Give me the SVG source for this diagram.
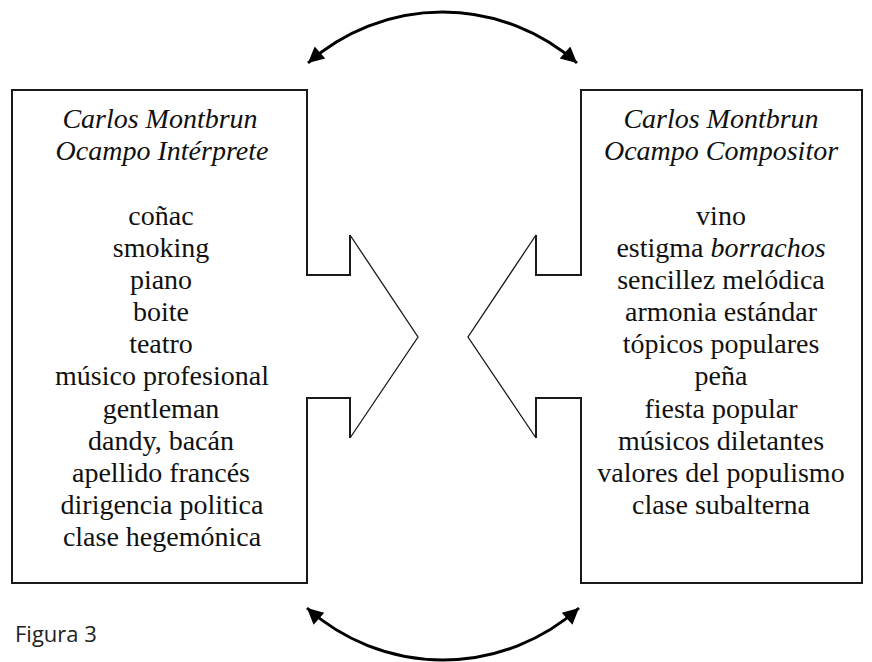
<svg xmlns="http://www.w3.org/2000/svg" width="872" height="662" viewBox="0 0 872 662">
<style>
.box{fill:none;stroke:#1a1a1a;stroke-width:2;stroke-linejoin:miter}
.diag{fill:none;stroke:#1a1a1a;stroke-width:1.3}
.t{font-family:"Liberation Serif","Times New Roman",serif;font-size:28px;fill:#111;text-anchor:middle}
.ti{font-style:italic}
.arc{fill:none;stroke:#000;stroke-width:3}
.fig{font-family:"Open Sans","Noto Sans",sans-serif;font-size:22px;fill:#222}
</style>
<defs>
<marker id="ah" viewBox="0 0 10 10" refX="10" refY="5" markerUnits="userSpaceOnUse" markerWidth="18" markerHeight="16" orient="auto-start-reverse">
<path d="M0,0 L10,5 L0,10 z" fill="#000"/>
</marker>
</defs>
<g id="left-box">
<path class="box" d="M350,235 L350,275 L307,275 L307,90 L12,90 L12,583 L307,583 L307,398 L350,398 L350,438"/>
<path class="diag" d="M350,235 L418,337 L350,438"/>
<text class="t ti" x="160" y="128">Carlos Montbrun</text>
<text class="t ti" x="162" y="160">Ocampo Intérprete</text>
<text class="t" x="161" y="225">coñac</text>
<text class="t" x="161" y="257">smoking</text>
<text class="t" x="161" y="289">piano</text>
<text class="t" x="161" y="321">boite</text>
<text class="t" x="161" y="353">teatro</text>
<text class="t" x="162" y="385">músico profesional</text>
<text class="t" x="161" y="418">gentleman</text>
<text class="t" x="161" y="450">dandy, bacán</text>
<text class="t" x="161" y="482">apellido francés</text>
<text class="t" x="162" y="514">dirigencia politica</text>
<text class="t" x="162" y="546">clase hegemónica</text>
</g>
<g id="right-box">
<path class="box" d="M536,235 L536,275 L581,275 L581,90 L862,90 L862,583 L581,583 L581,398 L536,398 L536,438"/>
<path class="diag" d="M536,235 L468,337 L536,438"/>
<text class="t ti" x="721" y="128">Carlos Montbrun</text>
<text class="t ti" x="721" y="160">Ocampo Compositor</text>
<text class="t" x="721" y="225">vino</text>
<text class="t" x="721" y="257">estigma <tspan class="ti">borrachos</tspan></text>
<text class="t" x="721" y="289">sencillez melódica</text>
<text class="t" x="721" y="321">armonia estándar</text>
<text class="t" x="721" y="353">tópicos populares</text>
<text class="t" x="721" y="385">peña</text>
<text class="t" x="721" y="418">fiesta popular</text>
<text class="t" x="721" y="450">músicos diletantes</text>
<text class="t" x="721" y="482">valores del populismo</text>
<text class="t" x="721" y="514">clase subalterna</text>
</g>
<g id="connectors">
<path class="arc" d="M308,63 A203,203 0 0 1 577,63" marker-start="url(#ah)" marker-end="url(#ah)"/>
<path class="arc" d="M307,608 A204,204 0 0 0 579,608" marker-start="url(#ah)" marker-end="url(#ah)"/>
</g>
<text id="caption" class="fig" x="15" y="642">Figura 3</text>
</svg>
